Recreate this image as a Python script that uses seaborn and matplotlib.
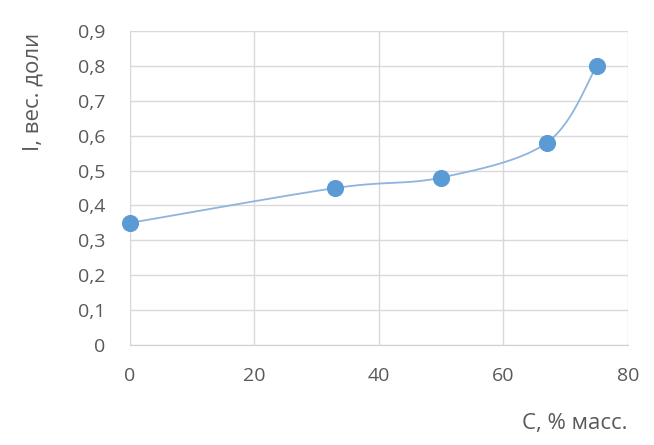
import numpy as np
import pandas as pd
import matplotlib
matplotlib.use("Agg")
import matplotlib.pyplot as plt
import seaborn as sns

# данные
conc = [0, 33, 50, 67, 75]
frac = [0.35, 0.45, 0.48, 0.58, 0.80]
x_ticks = [0, 20, 40, 60, 80]
y_ticks = [0, 0.1, 0.2, 0.3, 0.4, 0.5, 0.6, 0.7, 0.8, 0.9]

sns.set_style("whitegrid")
plt.rcParams['font.family'] = ['Open Sans', 'DejaVu Sans']

# сглаживание как в Excel (Catmull-Rom / Bezier)
def smooth(xs, ys, n=40):
    pts = np.column_stack([xs, ys]).astype(float)
    out = []
    for i in range(len(pts) - 1):
        p0 = pts[i - 1] if i > 0 else pts[i]
        p1 = pts[i]
        p2 = pts[i + 1]
        p3 = pts[i + 2] if i + 2 < len(pts) else pts[i + 1]
        c1 = p1 + (p2 - p0) / 6
        c2 = p2 - (p3 - p1) / 6
        t = np.linspace(0, 1, n)[:, None]
        seg = (1 - t) ** 3 * p1 + 3 * (1 - t) ** 2 * t * c1 + 3 * (1 - t) * t ** 2 * c2 + t ** 3 * p2
        out.append(seg if i == 0 else seg[1:])
    arr = np.vstack(out)
    return pd.DataFrame({"x": arr[:, 0], "y": arr[:, 1]})

curve = smooth(conc, frac)
df = pd.DataFrame({"x": conc, "y": frac})

fig = plt.figure(figsize=(6.54, 4.45), dpi=100)
ax = fig.add_axes([0.1988, 0.2247, 0.7612, 0.7056])

sns.lineplot(data=curve, x="x", y="y", sort=False, color="#8fb4dd", lw=1.3, ax=ax)
sns.scatterplot(data=df, x="x", y="y", s=130, color="#5b9bd5", edgecolor="#5b9bd5", zorder=3, ax=ax, clip_on=False)

ax.set_xlim(0, 80)
ax.set_ylim(0, 0.9)
ax.set_xticks(x_ticks)
ax.set_yticks(y_ticks)
ax.set_yticklabels([("%.1f" % v).replace(".", ",") if v != 0 else "0" for v in y_ticks])
ax.grid(True, color="#d9d9d9", lw=1)
for s in ax.spines.values():
    s.set_visible(False)
ax.spines["bottom"].set_visible(True)
ax.spines["bottom"].set_color("#d0d0d0")
ax.spines["left"].set_visible(True)
ax.spines["left"].set_color("#d9d9d9")
ax.tick_params(axis="both", length=0, labelsize=14, labelcolor="#595959")
ax.tick_params(axis="y", pad=18)
ax.tick_params(axis="x", pad=16)
ax.set_xlabel("")
ax.set_ylabel("")
fig.text(0.05, 0.793, "I, вес. доли", fontsize=16, color="#595959", rotation=90, ha="center", va="center")
fig.text(0.96, 0.025, "С, % масс.", fontsize=16, color="#595959", ha="right", va="bottom")

plt.savefig("out.png", dpi=100)
